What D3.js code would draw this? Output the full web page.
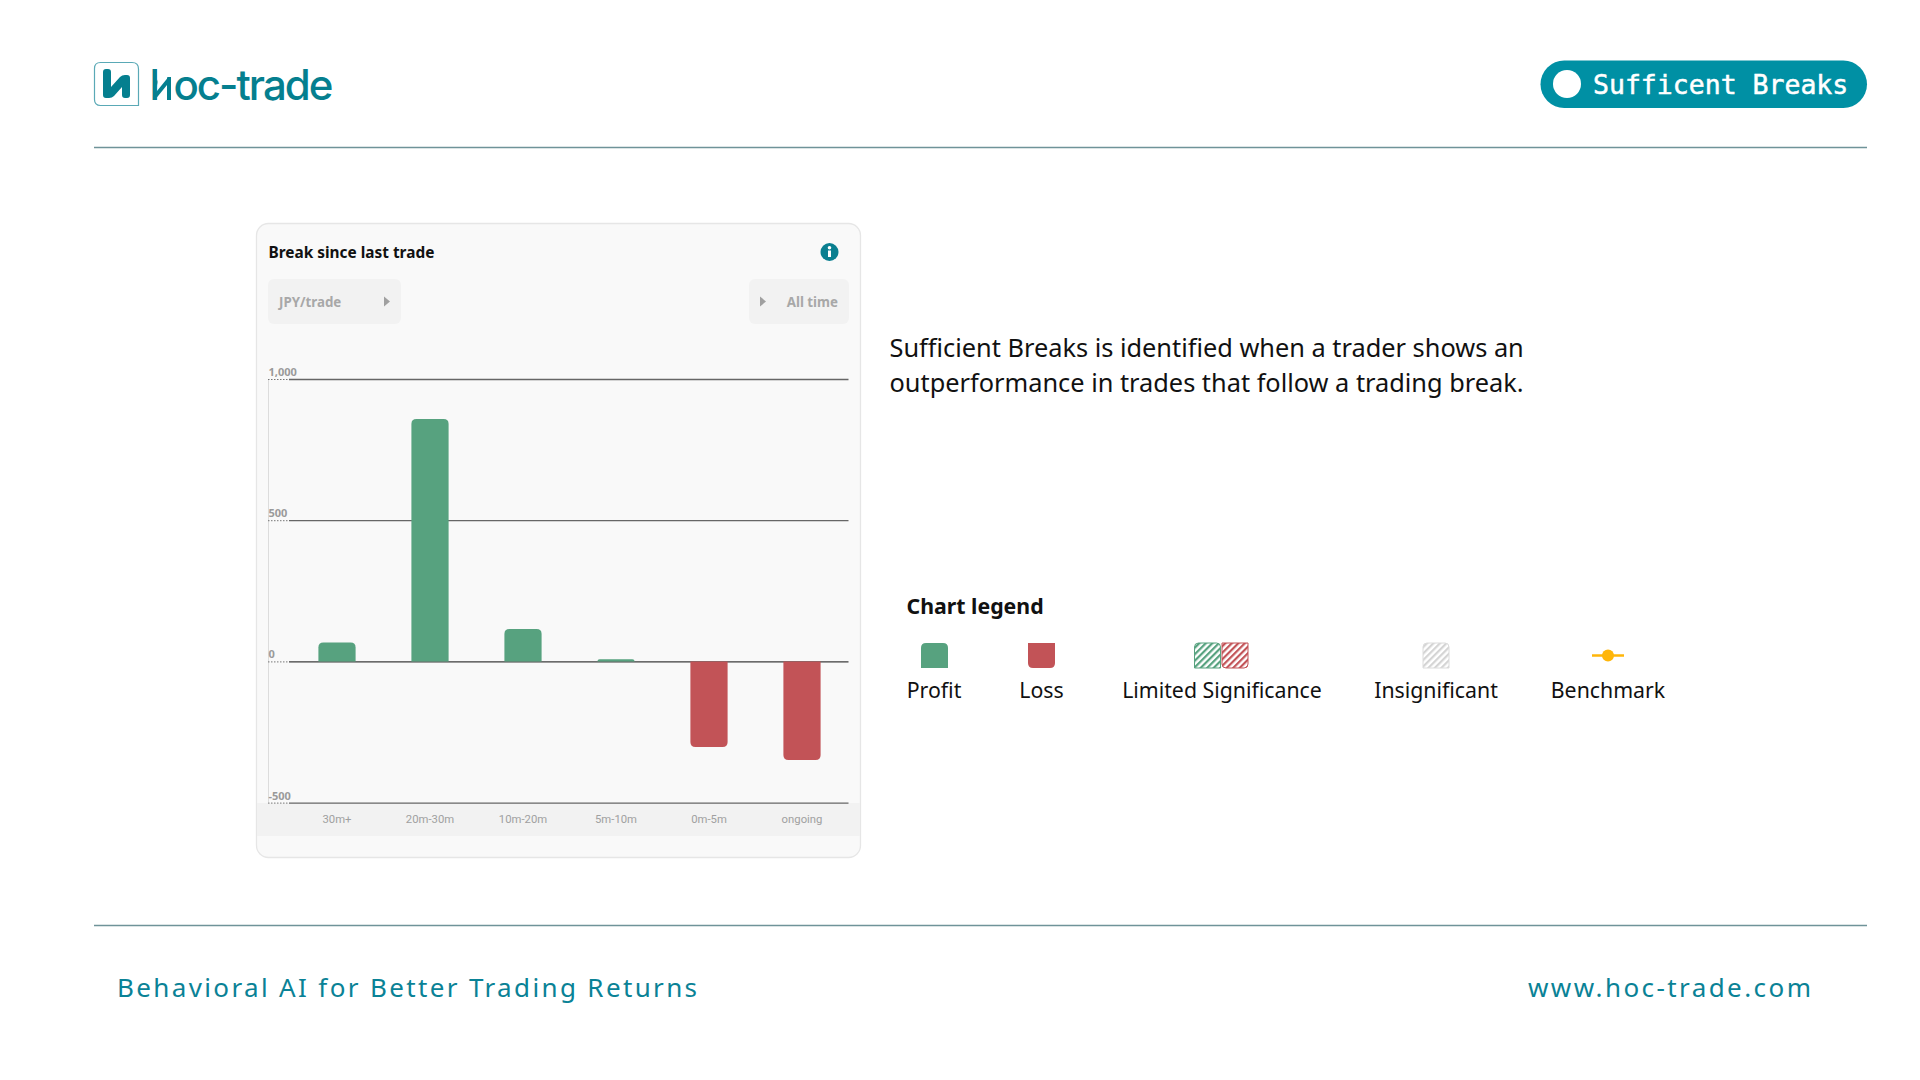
<!DOCTYPE html>
<html>
<head>
<meta charset="utf-8">
<script src="https://cdn.jsdelivr.net/npm/d3@7/dist/d3.min.js"></script>
<style>
  html, body { margin: 0; padding: 0; background: #fff; }
  svg { display: block; }
  text { font-family: "Noto Sans", sans-serif; }
</style>
</head>
<body>
<svg id="slide" width="1920" height="1080"></svg>
<script>
// Chart values
const categories = ["30m+", "20m-30m", "10m-20m", "5m-10m", "0m-5m", "ongoing"];
const pnlPerTrade = [67, 858, 115, 8, -303, -349];
const yTicks = [1000, 500, 0, -500];
const legendLabels = ["Profit", "Loss", "Limited Significance", "Insignificant", "Benchmark"];
const legendCentres = [934, 1041.5, 1222, 1436, 1608];
const paragraphLines = [
  "Sufficient Breaks is identified when a trader shows an",
  "outperformance in trades that follow a trading break."
];

const TEAL = "#0a8296", PILL = "#0090a4", BRAND = "#057f8f", GREEN = "#57a27f", RED = "#c25357", RULE = "#6f9399";
const svg = d3.select("#slide");

// Hatch fills for the legend swatches
const defs = svg.append("defs");
[["hatch-green", GREEN], ["hatch-red", RED], ["hatch-grey", "#d4d4d4"]].forEach(([id, c]) => {
  defs.append("pattern").attr("id", id).attr("width", 4.6).attr("height", 4.6)
    .attr("patternUnits", "userSpaceOnUse").attr("patternTransform", "rotate(-45)")
    .call(p => p.append("rect").attr("width", 4.6).attr("height", 4.6).attr("fill", "#fff"))
    .call(p => p.append("rect").attr("width", 4.6).attr("height", 2.2).attr("fill", c));
});
// Keeps only the tall stem of the logo's first letter
defs.append("clipPath").attr("id", "logo-stem").append("rect")
  .attr("x", 148).attr("y", 60).attr("width", 9.5).attr("height", 45);

// Bar outline with rounding only on the end away from the baseline
function roundedBar(x, y0, y1, w, r) {
  const rr = Math.min(r, Math.abs(y1 - y0));
  const d = y1 < y0 ? 1 : -1;
  const p = d3.path();
  p.moveTo(x, y0);
  p.lineTo(x, y1 + d * rr);
  p.quadraticCurveTo(x, y1, x + rr, y1);
  p.lineTo(x + w - rr, y1);
  p.quadraticCurveTo(x + w, y1, x + w, y1 + d * rr);
  p.lineTo(x + w, y0);
  p.closePath();
  return p.toString();
}

/* ---------- page furniture ---------- */
svg.append("line").attr("x1", 94).attr("x2", 1867).attr("y1", 147.5).attr("y2", 147.5)
  .attr("stroke", RULE).attr("stroke-width", 1.6);
svg.append("line").attr("x1", 94).attr("x2", 1867).attr("y1", 925.5).attr("y2", 925.5)
  .attr("stroke", RULE).attr("stroke-width", 1.6);

// Logo mark
const logo = svg.append("g");
logo.append("path").attr("fill", "#fff").attr("stroke", "#5aa9b6").attr("stroke-width", 1.2)
  .attr("d", "M100.5 62.5 H132 q6.5 0 6.5 6.5 V105.5 H100.5 q-6 0 -6 -6 V68.5 q0 -6 6 -6 z");
logo.append("path").attr("fill", BRAND)
  .attr("d", "M103 72 q0 -3 3 -3 h2 q3 0 3 3 v15 L120 77 q2 -2 5 -2 h2 q3 0 3 3 v17 q0 3 -3 3 h-2 q-3 0 -3 -3 V87 L114 96 q-2 2 -5 2 h-3 q-3 0 -3 -3 z");

// Wordmark: a tall stem and slanted join, then the remaining letters
logo.append("text").attr("x", 149.5).attr("y", 100).attr("fill", BRAND).attr("clip-path", "url(#logo-stem)")
  .style("font-family", "Inter").style("font-size", "42px").style("font-weight", 500).text("h");
logo.append("path").attr("fill", "none").attr("stroke", BRAND).attr("stroke-width", 4)
  .attr("d", "M155.5 96 L168.5 80");
logo.append("path").attr("fill", BRAND)
  .attr("d", "M167 78 q0 -1 1 -1 h3 v23 h-4 z");
logo.append("text").attr("x", 173.5).attr("y", 100).attr("fill", BRAND)
  .style("font-family", "Inter").style("font-size", "42px").style("font-weight", 500).style("letter-spacing", "-2px").text("oc-trade");

// Pattern name pill
svg.append("rect").attr("x", 1540.5).attr("y", 60.5).attr("width", 326.5).attr("height", 47.5).attr("rx", 23.7).attr("fill", PILL);
svg.append("circle").attr("cx", 1567).attr("cy", 84).attr("r", 14).attr("fill", "#fff");
svg.append("text").attr("x", 1593).attr("y", 94).attr("fill", "#fff").attr("stroke", "#fff").attr("stroke-width", 0.5)
  .style("font-family", "DejaVu Sans Mono").style("font-size", "26.5px").text("Sufficent Breaks");

// Footer
svg.append("text").attr("x", 117).attr("y", 997).attr("fill", TEAL)
  .style("font-size", "26px").style("letter-spacing", "2.36px").text("Behavioral AI for Better Trading Returns");
svg.append("text").attr("x", 1528).attr("y", 997).attr("fill", TEAL)
  .style("font-size", "26px").style("letter-spacing", "2.42px").text("www.hoc-trade.com");

/* ---------- card ---------- */
const card = svg.append("g");
card.append("rect").attr("x", 256.5).attr("y", 223.5).attr("width", 604).attr("height", 634).attr("rx", 12)
  .attr("fill", "#f9f9f9").attr("stroke", "#e6e6e6").attr("stroke-width", 1.3);
card.append("rect").attr("x", 257).attr("y", 803).attr("width", 603).attr("height", 33).attr("fill", "#f2f2f2");
card.append("text").attr("x", 268.5).attr("y", 258).attr("fill", "#111")
  .style("font-size", "15.4px").style("font-weight", 700).text("Break since last trade");

// Info badge
card.append("circle").attr("cx", 829.5).attr("cy", 252).attr("r", 9).attr("fill", "#0a7f90");
card.append("circle").attr("cx", 829.5).attr("cy", 247.8).attr("r", 1.8).attr("fill", "#fff");
card.append("rect").attr("x", 828).attr("y", 250.5).attr("width", 3).attr("height", 6.5).attr("fill", "#fff");

// Disabled selectors
const controls = card.append("g");
controls.append("rect").attr("x", 268).attr("y", 279).attr("width", 133).attr("height", 45).attr("rx", 6).attr("fill", "#f2f2f2");
controls.append("rect").attr("x", 749).attr("y", 279).attr("width", 100).attr("height", 45).attr("rx", 6).attr("fill", "#f2f2f2");
controls.append("text").attr("x", 279).attr("y", 306.5).attr("fill", "#a8a8a8")
  .style("font-size", "13.3px").style("font-weight", 700).text("JPY/trade");
controls.append("text").attr("x", 838).attr("y", 306.5).attr("text-anchor", "end").attr("fill", "#a8a8a8")
  .style("font-size", "13.3px").style("font-weight", 700).text("All time");
controls.append("path").attr("d", "M384 296.5 l6 5 l-6 5 z").attr("fill", "#a0a0a0");
controls.append("path").attr("d", "M760 296.5 l6 5 l-6 5 z").attr("fill", "#a0a0a0");

/* ---------- bar chart ---------- */
const plot = { left: 268, gridLeft: 289, x0: 290.5, x1: 848.5, yTop: 379, yBottom: 802.6 };
const x = d3.scaleBand().domain(categories).range([plot.x0, plot.x1]).paddingInner(0.6).paddingOuter(0.3);
const y = d3.scaleLinear().domain([-500, 1000]).range([plot.yBottom, plot.yTop]);

// Left axis rule
card.append("line").attr("x1", plot.left + .5).attr("x2", plot.left + .5).attr("y1", plot.yTop).attr("y2", plot.yBottom)
  .attr("stroke", "#dcdcdc");

// Dotted stubs, solid grid lines and value labels
const yAxis = card.append("g").attr("transform", `translate(${plot.gridLeft},0)`)
  .call(d3.axisLeft(y).tickValues(yTicks).tickFormat(d => d3.format(",")(d).replace("\u2212", "-")).tickSize(0).tickPadding(0));
yAxis.select(".domain").remove();
yAxis.selectAll(".tick line").remove();
yAxis.selectAll(".tick").each(function (d) {
  const t = d3.select(this);
  t.append("line").attr("x1", plot.left - plot.gridLeft).attr("x2", 0)
    .attr("stroke", "#777").attr("stroke-dasharray", "1.5 1.5");
  t.append("line").attr("x1", 0).attr("x2", plot.x1 - plot.gridLeft)
    .attr("stroke", d === 0 ? "#3c3c3c" : "#666").attr("stroke-width", d === 0 ? 1.4 : 1.3);
  t.select("text").attr("x", plot.left - plot.gridLeft + 0.5).attr("y", -3.5).attr("dy", 0).attr("text-anchor", "start")
    .attr("fill", "#9a9a9a").style("font-family", "Noto Sans").style("font-size", "11px").style("font-weight", 700);
});

// Bars
card.append("g").selectAll("path").data(categories).join("path")
  .attr("d", (c, i) => roundedBar(x(c), y(0), y(pnlPerTrade[i]), x.bandwidth(), 5))
  .attr("fill", (c, i) => pnlPerTrade[i] >= 0 ? GREEN : RED);

// Category labels
const xAxis = card.append("g").attr("transform", `translate(0,${plot.yBottom})`)
  .call(d3.axisBottom(x).tickSize(0).tickPadding(12));
xAxis.select(".domain").remove();
xAxis.selectAll("text").attr("fill", "#a0a0a0")
  .style("font-family", "Roboto").style("font-size", "11.3px");

/* ---------- description ---------- */
svg.append("g").selectAll("text").data(paragraphLines).join("text")
  .attr("x", 889.5).attr("y", (d, i) => 357 + i * 35)
  .attr("fill", "#111").style("font-size", "25.35px").text(d => d);

/* ---------- legend ---------- */
const legend = svg.append("g");
legend.append("text").attr("x", 906.5).attr("y", 614).attr("fill", "#111")
  .style("font-size", "21.3px").style("font-weight", 700).text("Chart legend");
legend.selectAll("text.item").data(legendLabels).join("text").attr("class", "item")
  .attr("x", (d, i) => legendCentres[i]).attr("y", 698).attr("text-anchor", "middle")
  .attr("fill", "#111").style("font-size", "21.3px").text(d => d);

const swatchW = 27, swatchTop = 643, swatchBottom = 668;
legend.append("path").attr("d", roundedBar(921, swatchBottom, swatchTop, swatchW, 5)).attr("fill", GREEN);
legend.append("path").attr("d", roundedBar(1028, swatchTop, swatchBottom, swatchW, 5)).attr("fill", RED);
legend.append("path").attr("d", roundedBar(1194.5, swatchBottom, swatchTop, swatchW - 1, 4))
  .attr("fill", "url(#hatch-green)").attr("stroke", GREEN);
legend.append("path").attr("d", roundedBar(1222, swatchTop, swatchBottom, swatchW - 1, 4))
  .attr("fill", "url(#hatch-red)").attr("stroke", RED);
legend.append("path").attr("d", roundedBar(1423, swatchBottom, swatchTop, swatchW - 1, 4))
  .attr("fill", "url(#hatch-grey)").attr("stroke", "#dcdcdc");
legend.append("line").attr("x1", 1592).attr("x2", 1624).attr("y1", 655.5).attr("y2", 655.5).attr("stroke", "#ffb60a").attr("stroke-width", 2.5);
legend.append("circle").attr("cx", 1608).attr("cy", 655.5).attr("r", 6).attr("fill", "#ffb60a");
</script>
</body>
</html>
